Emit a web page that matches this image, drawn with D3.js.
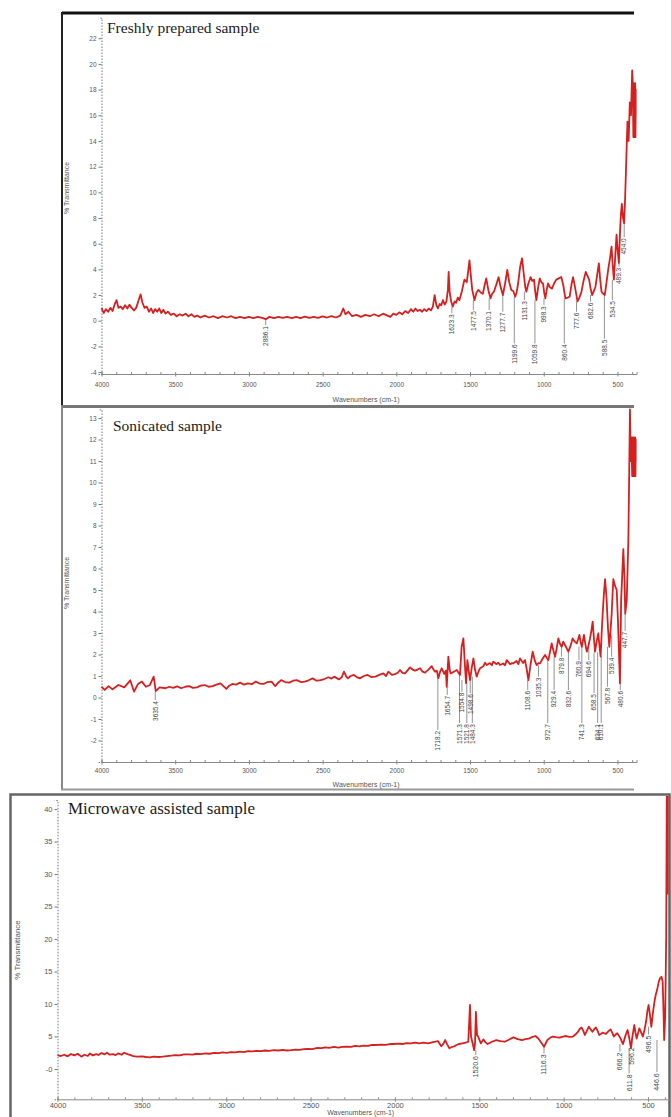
<!DOCTYPE html>
<html>
<head>
<meta charset="utf-8">
<script src="https://cdn.jsdelivr.net/npm/d3@7"></script>
<style>
  body { margin: 0; background: #fff; }
  svg { display: block; }
  .tick text { fill: #555; font-family: "Liberation Sans", Arial, sans-serif; }
</style>
</head>
<body>
<div class="visualization"></div>
<script>
// wavenumber (cm-1), % transmittance
const freshSpectrum = [[4000,1.0],[3985,0.6],[3970,0.9],[3955,0.7],[3940,1.0],[3925,0.75],[3910,1.3],[3898,1.6],[3885,1.0],[3870,1.1],[3855,0.9],[3840,1.2],[3825,0.95],[3810,1.25],[3795,1.0],[3780,0.8],[3765,1.0],[3748,1.6],[3735,2.05],[3722,1.4],[3708,1.0],[3693,1.1],[3678,0.7],[3663,0.95],[3650,0.6],[3636,0.9],[3622,0.7],[3608,0.95],[3594,0.6],[3580,0.85],[3566,0.55],[3550,0.7],[3530,0.45],[3510,0.55],[3490,0.35],[3470,0.5],[3450,0.4],[3430,0.55],[3410,0.35],[3390,0.5],[3370,0.3],[3350,0.4],[3330,0.25],[3300,0.4],[3270,0.25],[3240,0.35],[3210,0.2],[3180,0.35],[3150,0.25],[3120,0.35],[3090,0.2],[3060,0.3],[3030,0.2],[3000,0.3],[2970,0.2],[2940,0.3],[2910,0.22],[2886,0.12],[2860,0.3],[2830,0.2],[2800,0.3],[2770,0.22],[2740,0.3],[2710,0.2],[2680,0.3],[2650,0.2],[2620,0.32],[2590,0.22],[2560,0.3],[2530,0.22],[2500,0.33],[2470,0.25],[2440,0.35],[2410,0.25],[2380,0.4],[2360,0.95],[2345,0.5],[2325,0.7],[2300,0.35],[2270,0.45],[2240,0.3],[2210,0.45],[2180,0.35],[2150,0.5],[2120,0.35],[2090,0.55],[2060,0.4],[2040,0.3],[2020,0.55],[2000,0.45],[1980,0.65],[1960,0.5],[1940,0.75],[1920,0.6],[1900,0.9],[1885,0.7],[1870,0.95],[1855,0.75],[1840,0.85],[1825,0.7],[1810,0.9],[1795,0.75],[1780,0.95],[1765,0.8],[1752,1.1],[1740,2.0],[1728,1.2],[1718,0.96],[1706,1.3],[1695,1.2],[1684,1.6],[1672,1.25],[1660,1.5],[1650,2.4],[1645,3.8],[1638,2.2],[1628,1.5],[1617,1.1],[1605,1.5],[1594,1.4],[1583,1.8],[1572,1.6],[1555,2.3],[1538,3.2],[1522,3.0],[1512,3.9],[1504,4.7],[1495,3.6],[1485,2.4],[1470,1.6],[1456,2.2],[1443,2.4],[1428,2.2],[1413,2.1],[1402,2.7],[1390,3.3],[1376,2.4],[1361,1.74],[1350,2.1],[1338,2.26],[1322,2.8],[1306,3.4],[1292,2.6],[1277,2.0],[1262,2.9],[1247,3.95],[1234,3.0],[1220,2.4],[1206,2.3],[1193,1.87],[1184,2.2],[1175,2.8],[1160,4.2],[1147,4.86],[1135,3.6],[1125,2.6],[1118,2.26],[1104,2.9],[1089,3.4],[1078,3.1],[1066,3.2],[1058,2.3],[1050,1.6],[1038,2.6],[1027,3.3],[1016,3.0],[1005,2.9],[997,2.2],[989,1.74],[980,2.4],[971,2.9],[958,2.6],[944,2.5],[930,2.9],[915,3.2],[898,3.3],[881,3.4],[868,2.8],[853,1.74],[838,1.8],[824,1.87],[812,2.8],[801,3.4],[786,2.5],[771,1.5],[758,1.8],[744,2.26],[730,3.1],[715,3.8],[703,3.5],[692,3.2],[682,2.5],[672,2.0],[660,2.3],[649,2.65],[637,3.6],[626,4.47],[617,3.2],[608,2.26],[597,2.1],[586,2.0],[575,2.9],[563,3.95],[550,4.9],[540,5.77],[532,4.3],[524,3.2],[515,5.0],[506,6.7],[498,5.4],[490,4.5],[483,6.8],[477,8.2],[470,9.1],[462,8.0],[455,7.6],[448,9.5],[440,12.5],[432,15.5],[424,14.0],[416,17.0],[408,16.0],[400,19.5],[396,18.5],[392,14.3],[388,18.5],[384,14.3],[380,18.5],[376,14.3],[372,18.0],[370,16.0]];

const sonicSpectrum = [[4000,0.5],[3978,0.35],[3952,0.53],[3925,0.38],[3885,0.58],[3845,0.47],[3805,0.8],[3779,0.27],[3752,0.63],[3726,0.74],[3699,0.5],[3672,0.58],[3646,0.97],[3632,0.3],[3606,0.47],[3566,0.43],[3540,0.5],[3513,0.45],[3486,0.52],[3459,0.43],[3432,0.5],[3406,0.53],[3380,0.45],[3353,0.47],[3326,0.55],[3300,0.58],[3273,0.5],[3246,0.53],[3220,0.6],[3193,0.66],[3153,0.4],[3133,0.55],[3113,0.63],[3087,0.6],[3060,0.69],[3033,0.6],[3007,0.66],[2980,0.62],[2954,0.74],[2927,0.65],[2900,0.63],[2874,0.72],[2847,0.74],[2821,0.53],[2800,0.7],[2781,0.81],[2754,0.72],[2727,0.69],[2700,0.78],[2674,0.81],[2648,0.72],[2621,0.74],[2595,0.8],[2568,0.89],[2541,0.78],[2514,0.81],[2488,0.86],[2461,0.94],[2440,0.88],[2421,0.97],[2389,0.84],[2370,0.95],[2355,1.2],[2340,0.98],[2328,0.89],[2310,1.0],[2288,1.05],[2268,0.95],[2248,0.89],[2220,1.0],[2195,1.05],[2170,0.95],[2142,0.97],[2115,1.05],[2088,1.12],[2070,1.0],[2054,1.2],[2030,1.05],[2009,1.09],[1990,1.15],[1975,1.28],[1958,1.15],[1941,1.12],[1925,1.25],[1907,1.4],[1890,1.3],[1873,1.25],[1856,1.3],[1839,1.36],[1822,1.2],[1805,1.16],[1782,1.3],[1760,1.46],[1748,1.3],[1737,1.2],[1725,1.25],[1715,0.9],[1703,1.2],[1692,1.36],[1675,1.1],[1664,1.25],[1658,0.5],[1647,1.9],[1638,1.3],[1631,1.12],[1610,1.2],[1590,1.28],[1578,1.15],[1568,1.05],[1557,2.36],[1545,2.75],[1538,1.9],[1534,1.43],[1527,0.66],[1518,1.74],[1510,1.3],[1500,0.81],[1488,1.4],[1477,1.82],[1466,1.3],[1455,0.97],[1443,1.2],[1432,1.36],[1410,1.45],[1398,1.62],[1387,1.51],[1365,1.6],[1352,1.5],[1342,1.67],[1320,1.55],[1308,1.62],[1297,1.51],[1275,1.58],[1262,1.5],[1251,1.74],[1228,1.55],[1215,1.6],[1206,1.59],[1184,1.7],[1172,1.55],[1161,1.82],[1140,1.6],[1127,1.74],[1115,1.3],[1104,0.81],[1090,1.5],[1075,2.13],[1060,1.7],[1048,1.51],[1036,1.6],[1025,1.59],[1008,1.8],[991,1.98],[980,1.85],[969,1.74],[958,2.1],[946,2.52],[935,2.2],[923,1.9],[912,2.3],[901,2.75],[890,2.5],[878,2.36],[867,2.6],[856,2.44],[845,2.3],[833,2.13],[818,2.4],[804,2.75],[790,2.6],[776,2.52],[767,2.7],[758,2.91],[750,2.6],[742,2.36],[735,2.6],[727,2.91],[718,2.5],[708,2.13],[697,2.4],[686,2.75],[677,3.1],[668,3.53],[660,2.8],[652,2.13],[641,2.6],[630,2.98],[622,2.4],[614,1.9],[607,3.0],[600,3.91],[592,4.8],[584,5.5],[578,5.0],[573,4.5],[564,3.2],[555,2.36],[547,3.1],[539,3.9],[533,4.8],[528,5.5],[517,5.2],[505,5.0],[496,3.5],[483,0.66],[479,2.5],[475,4.5],[467,5.8],[460,6.9],[452,5.5],[447,3.9],[437,4.5],[426,7.3],[420,10.5],[415,13.4],[410,11.0],[405,12.1],[400,10.3],[396,12.1],[392,10.3],[388,12.1],[384,10.3],[380,12.1],[376,10.3],[372,12.0],[370,11.0]];

const microSpectrum = [[4000,2.15],[3980,2.0],[3960,2.2],[3940,1.95],[3920,2.3],[3900,2.1],[3880,2.35],[3859,1.9],[3840,2.2],[3820,2.0],[3808,2.4],[3790,2.1],[3770,2.3],[3757,2.15],[3740,2.45],[3720,2.25],[3707,2.5],[3690,2.2],[3670,2.3],[3656,2.15],[3640,2.4],[3620,2.2],[3605,2.5],[3585,2.3],[3567,2.15],[3550,2.0],[3529,1.9],[3500,1.95],[3475,1.85],[3453,1.8],[3430,1.9],[3400,1.85],[3377,1.9],[3350,2.0],[3325,2.05],[3301,2.15],[3275,2.1],[3250,2.25],[3225,2.25],[3200,2.2],[3175,2.35],[3150,2.3],[3123,2.4],[3100,2.35],[3070,2.5],[3045,2.45],[3022,2.56],[3000,2.5],[2970,2.6],[2945,2.55],[2920,2.67],[2895,2.6],[2870,2.75],[2845,2.7],[2819,2.8],[2795,2.75],[2770,2.85],[2745,2.8],[2717,2.9],[2690,2.85],[2665,2.95],[2640,2.85],[2616,2.9],[2590,3.0],[2565,2.95],[2540,3.05],[2514,3.1],[2490,3.05],[2460,3.25],[2435,3.2],[2413,3.33],[2390,3.25],[2360,3.4],[2335,3.3],[2311,3.4],[2285,3.45],[2260,3.4],[2235,3.55],[2210,3.5],[2185,3.6],[2160,3.55],[2135,3.7],[2108,3.7],[2080,3.75],[2055,3.7],[2030,3.85],[2007,3.85],[1980,3.9],[1955,3.85],[1930,4.0],[1905,3.95],[1880,4.05],[1855,3.95],[1830,4.05],[1804,3.95],[1780,4.1],[1760,4.2],[1745,4.3],[1735,3.9],[1725,3.5],[1712,3.9],[1702,4.46],[1690,3.8],[1677,3.2],[1662,3.4],[1647,3.5],[1635,3.7],[1621,3.85],[1600,3.95],[1581,4.05],[1565,4.2],[1555,9.85],[1549,5.0],[1544,4.46],[1530,2.9],[1525,4.0],[1520,8.8],[1513,5.2],[1506,5.0],[1498,4.4],[1490,3.95],[1476,4.56],[1463,4.1],[1450,3.85],[1425,4.2],[1399,4.46],[1375,4.3],[1349,4.2],[1325,4.5],[1298,4.87],[1272,4.6],[1247,4.46],[1227,4.6],[1207,4.67],[1187,4.9],[1167,5.08],[1150,4.7],[1136,4.2],[1116,3.44],[1105,4.0],[1096,4.46],[1080,4.8],[1066,5.0],[1045,4.9],[1025,4.82],[1005,5.0],[985,5.08],[965,4.95],[945,5.0],[930,5.3],[914,5.74],[904,6.2],[894,6.4],[884,5.9],[874,5.23],[862,5.9],[850,6.5],[840,6.1],[829,5.74],[819,6.1],[809,6.4],[799,5.9],[789,5.23],[779,5.4],[769,5.6],[759,5.5],[749,5.4],[735,5.8],[722,6.1],[712,5.6],[702,5.0],[692,5.3],[682,5.5],[672,5.1],[662,4.7],[655,4.2],[648,3.85],[635,5.0],[621,6.0],[611,4.8],[601,3.2],[591,5.2],[581,6.77],[574,5.6],[567,4.7],[559,5.5],[551,6.26],[540,5.6],[530,5.0],[520,6.1],[510,7.5],[503,9.0],[496,9.85],[488,8.3],[480,6.5],[470,8.8],[460,10.6],[453,11.5],[446,12.15],[437,13.3],[429,13.95],[420,14.2],[413,13.5],[408,9.0],[404,4.46],[398,8.0],[392,20.0],[388,45.0],[384,27.0],[380,45.0],[376,27.0],[372,45.0],[370,30.0]];

// peak labels: wavenumber, value where the leader starts, value where the text starts
const freshPeaks = [2886.1, 1623.3, 1477.5, 1370.1, 1277.7, 1199.6, 1131.3, 1059.8, 998.3, 860.4, 777.6, 682.6, 588.5, 534.5, 489.3, 454.0];
const freshPeakTop = [0.18, 1.1, 1.6, 1.74, 2.0, 1.87, 2.26, 1.6, 1.74, 1.74, 1.5, 2.0, 2.0, 3.2, 4.5, 7.6];
const freshPeakText = [-0.34, 0.57, 0.83, 0.83, 0.7, -1.77, 1.6, -1.77, 1.2, -1.77, 0.7, 1.48, -1.4, 1.6, 4.2, 6.5];

const sonicPeaks = [3635.4, 1718.2, 1654.7, 1571.3, 1554.8, 1521.8, 1498.6, 1484.3, 1108.6, 1035.3, 972.7, 929.4, 879.8, 832.6, 760.9, 741.3, 694.6, 658.5, 634.1, 610.1, 567.8, 539.4, 480.6, 447.7];
const sonicPeakTop = [0.27, 0.97, 0.5, 1.05, 0.81, 0.66, 0.81, 0.97, 0.81, 1.5, 1.74, 1.9, 2.5, 2.1, 2.36, 2.36, 2.5, 2.1, 2.1, 1.9, 2.36, 2.9, 0.66, 3.9];
const sonicPeakText = [-0.12, -1.51, 0.12, -1.19, 0.27, -1.19, 0.2, -1.19, 0.35, 0.97, -1.19, 0.35, 1.9, 0.35, 1.74, -1.19, 1.74, 0.2, -1.19, -1.19, 0.5, 1.9, 0.35, 3.1];

const microPeaks = [1520.6, 1116.3, 666.2, 611.8, 596.2, 496.5, 446.6];
const microPeakTop = [2.9, 3.44, 3.85, 3.2, 4.7, 6.5, 4.46];
const microPeakText = [2.15, 2.4, 2.67, -0.67, 3.5, 5.3, -0.5];

const xTicks = [4000, 3500, 3000, 2500, 2000, 1500, 1000, 500];
const freshYTicks = [22, 20, 18, 16, 14, 12, 10, 8, 6, 4, 2, 0, -2, -4];
const sonicYTicks = [13, 12, 11, 10, 9, 8, 7, 6, 5, 4, 3, 2, 1, 0, -1, -2];
const microYTicks = [40, 35, 30, 25, 20, 15, 10, 5, 0];
const microYTickLabels = ["40", "35", "30", "25", "20", "15", "10", "5", "-0"];

const titles = ["Freshly prepared sample", "Sonicated sample", "Microwave assisted sample"];

var svg = d3.select(".visualization").
append("svg").
attr("width", 671).
attr("height", 1117);

// frames, drawn the way the three screenshots were stacked
svg.append("line").attr("x1", 62).attr("x2", 634).attr("y1", 13).attr("y2", 13).
attr("stroke", "#111").attr("stroke-width", 3);
svg.append("line").attr("x1", 62).attr("x2", 62).attr("y1", 12).attr("y2", 406).
attr("stroke", "#222").attr("stroke-width", 2);
svg.append("line").attr("x1", 61).attr("x2", 634).attr("y1", 406.5).attr("y2", 406.5).
attr("stroke", "#777").attr("stroke-width", 3);
svg.append("line").attr("x1", 62).attr("x2", 62).attr("y1", 406).attr("y2", 790).
attr("stroke", "#888").attr("stroke-width", 2);
svg.append("line").attr("x1", 61).attr("x2", 634).attr("y1", 789.5).attr("y2", 789.5).
attr("stroke", "#999").attr("stroke-width", 2);
svg.append("rect").attr("x", 10.5).attr("y", 794.5).attr("width", 659).attr("height", 340).
attr("fill", "none").attr("stroke", "#666").attr("stroke-width", 2.5);

var panels = [
  {
    spectrum: freshSpectrum, peaks: freshPeaks, peakTop: freshPeakTop, peakText: freshPeakText,
    yTicks: freshYTicks, yLabels: freshYTicks.map(String), title: titles[0],
    yDomain: [-4.15, 23.6], yRange: [374, 17.7], xRange: [101.5, 636.6],
    clip: [63, 14.5, 636.6, 405], titleX: 107, titleY: 33, titleSize: 15.5,
    tickSize: 6.5, labelY: 386.5, xTitleY: 402, yTitleX: 69, yTitleY: 188, yTitleSize: 7
  },
  {
    spectrum: sonicSpectrum, peaks: sonicPeaks, peakTop: sonicPeakTop, peakText: sonicPeakText,
    yTicks: sonicYTicks, yLabels: sonicYTicks.map(String), title: titles[1],
    yDomain: [-3, 13.4], yRange: [762, 409.4], xRange: [101.5, 636.6],
    clip: [63, 408, 636.6, 788.5], titleX: 113, titleY: 431, titleSize: 15.5,
    tickSize: 6.5, labelY: 773, xTitleY: 787, yTitleX: 69, yTitleY: 583, yTitleSize: 7
  },
  {
    spectrum: microSpectrum, peaks: microPeaks, peakTop: microPeakTop, peakText: microPeakText,
    yTicks: microYTicks, yLabels: microYTickLabels, title: titles[2],
    yDomain: [-4.66, 41.4], yRange: [1099.3, 800], xRange: [57.5, 669.9],
    clip: [12, 796, 668.5, 1117], titleX: 68, titleY: 814, titleSize: 17,
    tickSize: 7.5, labelY: 1108.5, xTitleY: 1114.5, yTitleX: 20, yTitleY: 950, yTitleSize: 7
  }
];

panels.forEach(function (p, i) {
  var x = d3.scaleLinear().domain([4000, 370]).range(p.xRange);
  var y = d3.scaleLinear().domain(p.yDomain).range(p.yRange);
  var g = svg.append("g");

  g.append("clipPath").attr("id", "clip" + i).
  append("rect").
  attr("x", p.clip[0]).attr("y", p.clip[1]).
  attr("width", p.clip[2] - p.clip[0]).attr("height", p.clip[3] - p.clip[1]);

  // x axis: minor ticks every 100, labels every 500
  g.append("g").
  attr("transform", "translate(0," + p.yRange[0] + ")").
  call(d3.axisTop(x).tickValues(d3.range(400, 4001, 100)).tickSize(2).tickFormat("")).
  call(a => a.selectAll("line").attr("stroke", "#888")).
  call(a => a.select(".domain").attr("stroke", "#888"));

  var xaxis = g.append("g").
  attr("transform", "translate(0," + p.yRange[0] + ")").
  call(d3.axisBottom(x).tickValues(xTicks).tickSize(2.5).tickPadding(2).tickFormat(d3.format("d")));
  xaxis.select(".domain").remove();
  xaxis.selectAll("line").attr("stroke", "#888");
  xaxis.selectAll("text").attr("y", p.labelY - p.yRange[0]).attr("dy", 0).
  attr("font-size", p.tickSize);

  // y axis: dotted line with small ticks
  var yaxis = g.append("g").
  attr("transform", "translate(" + p.xRange[0] + ",0)").
  call(d3.axisLeft(y).tickValues(p.yTicks).tickSize(3).tickPadding(2).
  tickFormat((d, k) => p.yLabels[k]));
  yaxis.select(".domain").attr("stroke", "#777").attr("stroke-dasharray", "1.5,1.5");
  yaxis.selectAll("line").attr("stroke", "#777");
  yaxis.selectAll("text").attr("font-size", p.tickSize);

  g.append("text").
  attr("x", (p.xRange[0] + p.xRange[1]) / 2 - 3).
  attr("y", p.xTitleY).
  attr("text-anchor", "middle").
  attr("font-family", "Liberation Sans, Arial, sans-serif").
  attr("font-size", p.yTitleSize).
  attr("fill", "#555").
  text("Wavenumbers (cm-1)");

  g.append("text").
  attr("transform", "translate(" + p.yTitleX + "," + p.yTitleY + ") rotate(-90)").
  attr("text-anchor", "middle").
  attr("font-family", "Liberation Sans, Arial, sans-serif").
  attr("font-size", i == 2 ? 8 : p.yTitleSize).
  attr("fill", "#555").
  text("% Transmittance");

  // peak leaders and labels
  var ann = g.append("g");
  ann.selectAll("line").
  data(p.peaks).
  enter().
  append("line").
  attr("x1", d => x(d)).attr("x2", d => x(d)).
  attr("y1", (d, k) => y(p.peakTop[k])).
  attr("y2", (d, k) => y(p.peakText[k])).
  attr("stroke", "#777").
  attr("stroke-width", 0.8);

  ann.selectAll("text").
  data(p.peaks).
  enter().
  append("text").
  attr("transform", (d, k) => "translate(" + x(d) + "," + (y(p.peakText[k]) + 1) + ") rotate(-90)").
  attr("text-anchor", "end").
  attr("dy", "0.35em").
  attr("font-family", "Liberation Sans, Arial, sans-serif").
  attr("font-size", i == 2 ? 7 : 6.5).
  attr("fill", "#444").
  text(d => d.toFixed(1));

  // spectrum
  var line = d3.line().x(d => x(d[0])).y(d => y(d[1]));
  g.append("path").
  datum(p.spectrum).
  attr("clip-path", "url(#clip" + i + ")").
  attr("d", line).
  attr("fill", "none").
  attr("stroke", "#d61f1f").
  attr("stroke-width", 1.8).
  attr("stroke-linejoin", "round");

  g.append("text").
  attr("x", p.titleX).
  attr("y", p.titleY).
  attr("font-family", "Liberation Serif, Times New Roman, serif").
  attr("font-size", p.titleSize).
  attr("fill", "#1a1a1a").
  text(p.title);
});
</script>
</body>
</html>
